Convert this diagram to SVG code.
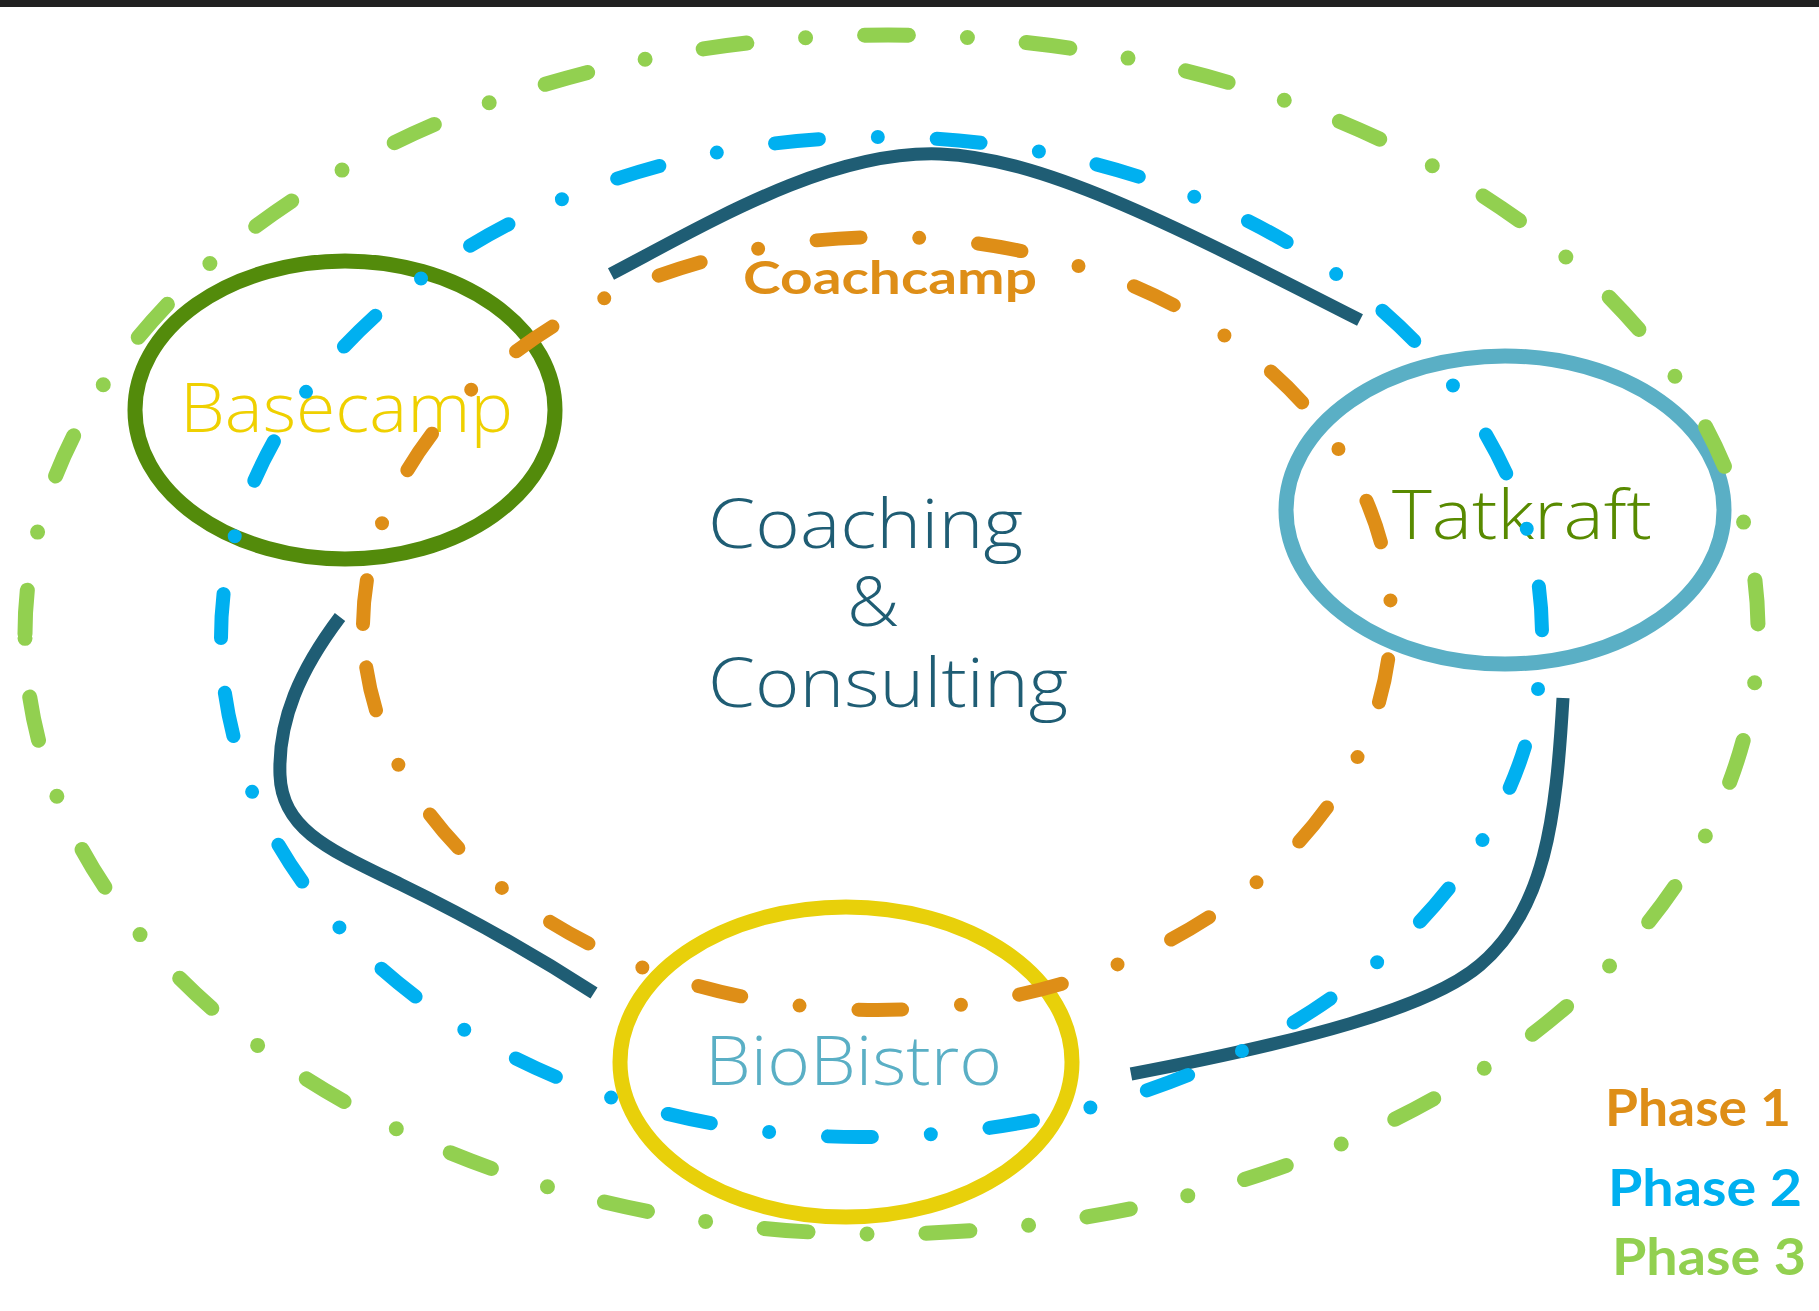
<svg xmlns="http://www.w3.org/2000/svg" width="1819" height="1311" viewBox="0 0 1819 1311">
  <style>
    .ring { fill: none; stroke-linecap: round; stroke-dasharray: 44 59 0 59; }
    .p1 { stroke: #DE8E17; stroke-width: 14; }
    .p2 { stroke: #00B0F0; stroke-width: 14; }
    .p3 { stroke: #92D050; stroke-width: 15; }
    .node { fill: none; stroke-width: 15; }
    .link { fill: none; stroke: #1F5D74; stroke-width: 13; stroke-linecap: butt; }
    .light { font-family: "Open Sans", "Noto Sans", "Liberation Sans", sans-serif; font-weight: 300; font-size: 68px; }
    .bold { font-family: Lato, "Liberation Sans", sans-serif; font-weight: 700; }
  </style>
  <rect x="0" y="0" width="1819" height="7" fill="#212121"/>

  <g id="node-basecamp">
    <ellipse class="node" cx="345" cy="410" rx="210" ry="149" stroke="#538B0B"/>
    <text class="light" x="180" y="432" textLength="333" lengthAdjust="spacingAndGlyphs" fill="#EFD000">Basecamp</text>
  </g>
  <g id="node-tatkraft">
    <ellipse class="node" cx="1505" cy="510" rx="219" ry="154" stroke="#5AAFC5"/>
    <text class="light" x="1392" y="539" font-size="67" textLength="260" lengthAdjust="spacingAndGlyphs" fill="#588A00">Tatkraft</text>
  </g>
  <g id="node-biobistro">
    <ellipse class="node" cx="846" cy="1062" rx="226" ry="155" stroke="#E8D00A"/>
    <text class="light" x="705" y="1085" textLength="297" lengthAdjust="spacingAndGlyphs" fill="#5AAFC5">BioBistro</text>
  </g>
  <g id="node-center">
    <text class="light" x="708" y="548" font-size="66" textLength="315" lengthAdjust="spacingAndGlyphs" fill="#1F5D74">Coaching</text>
    <text class="light" x="847" y="626" font-size="66" textLength="52" lengthAdjust="spacingAndGlyphs" fill="#1F5D74">&amp;</text>
    <text class="light" x="708" y="707" font-size="66" textLength="360" lengthAdjust="spacingAndGlyphs" fill="#1F5D74">Consulting</text>
  </g>
  <g id="node-coachcamp">
    <text class="bold" x="743" y="294" font-size="45" textLength="294" lengthAdjust="spacingAndGlyphs" fill="#DE8E17">Coachcamp</text>
  </g>

  <g id="connectors">
    <path class="link" d="M 611 274 C 710 222, 830 150, 940 154 C 1040 158, 1160 218, 1360 320"/>
    <path class="link" d="M 340 617 C 300 670, 278 720, 280 775 C 282 830, 330 850, 400 884 C 470 918, 540 958, 594 993"/>
    <path class="link" d="M 1563 698 C 1556 820, 1545 910, 1480 965 C 1430 1008, 1300 1042, 1131 1074"/>
  </g>

  <g id="phase-1">
    <path class="ring p1" d="M 363 624 A 522 391 0 0 1 885 237 A 506 381 0 0 1 1391 618 A 514 392 0 0 1 877 1010 A 514 386 0 0 1 363 624"/>
  </g>
  <g id="phase-2">
    <path class="ring p2" d="M 221 638 A 659 501 0 0 1 880 137 A 662 498 0 0 1 1542 635 A 682 502 0 0 1 860 1137 A 639 499 0 0 1 221 638"/>
  </g>
  <g id="phase-3">
    <path class="ring p3" d="M 25 634 A 863 599 0 0 1 888 35 A 870 595 0 0 1 1758 630 A 878 604 0 0 1 880 1234 A 855 600 0 0 1 25 634"/>
  </g>

  <g id="legend">
    <text class="bold" x="1605" y="1126" font-size="52" textLength="186" lengthAdjust="spacingAndGlyphs" fill="#DE8E17">Phase 1</text>
    <text class="bold" x="1608" y="1206" font-size="52" textLength="194" lengthAdjust="spacingAndGlyphs" fill="#00B0F0">Phase 2</text>
    <text class="bold" x="1612" y="1275" font-size="52" textLength="194" lengthAdjust="spacingAndGlyphs" fill="#92D050">Phase 3</text>
  </g>
</svg>
